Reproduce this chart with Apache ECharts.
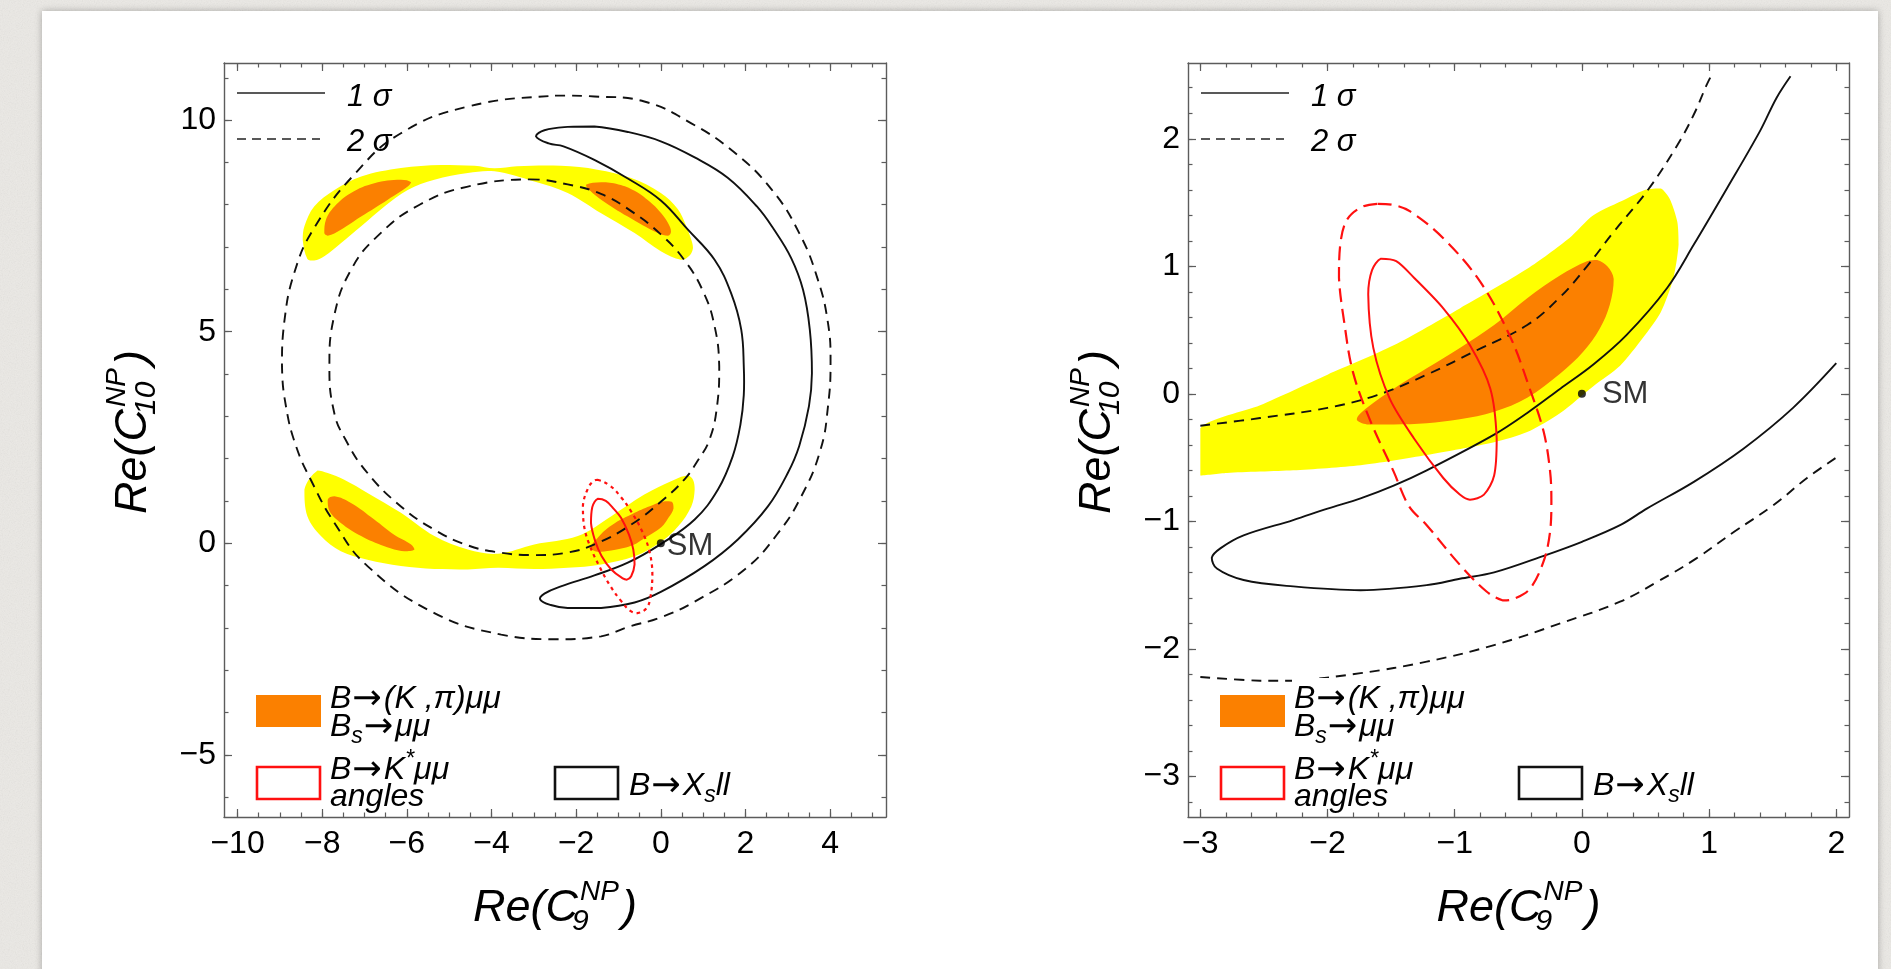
<!DOCTYPE html>
<html>
<head>
<meta charset="utf-8">
<title>C9 – C10 constraints</title>
<script src="https://cdn.jsdelivr.net/npm/echarts@6/dist/echarts.min.js"></script>
<style>
  html, body { margin: 0; padding: 0; width: 1891px; height: 969px; overflow: hidden; }
  body {
    background-color: #ebe9e5;
    background-image: url("data:image/svg+xml;utf8,<svg xmlns='http://www.w3.org/2000/svg' width='260' height='260'><filter id='n'><feTurbulence type='fractalNoise' baseFrequency='0.85' numOctaves='2' stitchTiles='stitch'/><feColorMatrix type='saturate' values='0'/></filter><rect width='260' height='260' filter='url(%23n)' opacity='0.16'/></svg>");
  }
  #card { position: absolute; left: 42px; top: 11px; width: 1836px; height: 990px; background: #fff;
          box-shadow: 0 0 7px rgba(0,0,0,0.28); }
  #chart { position: absolute; left: 0; top: 0; width: 1891px; height: 969px; }
</style>
</head>
<body>
<div id="card"></div>
<div id="chart"></div>
<script>
// ---------------- axis ranges and tick values ----------------
const leftXRange = [-10.32, 5.32];
const leftYRange = [-6.47, 11.35];
const rightXRange = [-3.097, 2.1];
const rightYRange = [-3.318, 2.594];

const leftXMajor = [-10, -8, -6, -4, -2, 0, 2, 4];
const leftYMajor = [-5, 0, 5, 10];
const rightXMajor = [-3, -2, -1, 0, 1, 2];
const rightYMajor = [-3, -2, -1, 0, 1, 2];

function steps(a, b, d) {
  const out = [];
  for (let v = a; v <= b + 1e-9; v += d) out.push(Math.round(v * 1000) / 1000);
  return out;
}
const leftXMinor = steps(-10, 5, 0.5);
const leftYMinor = steps(-6, 11, 1);
const rightXMinor = steps(-3, 2, 0.2);
const rightYMinor = steps(-3.2, 2.4, 0.2);

// ---------------- left panel: full (C9, C10) plane ----------------
// B→(K,π)μμ & Bs→μμ, 2σ (yellow) bands
const L_yellowTop = [[-8.35,6.72],[-8.46,7.17],[-8.42,7.49],[-8.19,7.96],[-7.71,8.35],[-7.08,8.67],[-6.14,8.87],[-5.19,8.94],[-4.4,8.92],[-3.93,8.86],[-3.4,8.91],[-2.36,8.92],[-1.5,8.83],[-0.7,8.63],[0.0,8.28],[0.4,7.9],[0.6,7.5],[0.72,7.17],[0.76,6.98],[0.68,6.8],[0.48,6.7],[0.0,6.9],[-0.62,7.33],[-1.41,7.8],[-2.2,8.28],[-2.99,8.55],[-3.93,8.79],[-4.56,8.75],[-5.35,8.59],[-5.98,8.35],[-6.53,7.96],[-7.08,7.49],[-7.56,7.09],[-7.95,6.78],[-8.19,6.68]];
const L_yellowBottom = [[-8.11,1.72],[-8.42,1.27],[-8.35,0.64],[-8.03,0.17],[-7.56,-0.19],[-6.93,-0.39],[-6.14,-0.54],[-5.35,-0.61],[-4.56,-0.62],[-3.85,-0.58],[-2.99,-0.61],[-2.2,-0.58],[-1.41,-0.5],[-0.62,-0.31],[0.0,0.03],[0.41,0.4],[0.72,0.87],[0.8,1.27],[0.76,1.5],[0.64,1.6],[0.32,1.5],[-0.39,1.15],[-1.17,0.64],[-1.96,0.17],[-2.99,-0.03],[-3.85,-0.25],[-4.56,-0.15],[-5.35,0.17],[-6.14,0.72],[-6.93,1.19],[-7.48,1.5],[-7.87,1.66]];
// 1σ (orange) islands
const L_orangeTL = [[-7.95,7.33],[-7.91,7.65],[-7.71,7.96],[-7.32,8.28],[-6.77,8.51],[-6.14,8.59],[-5.9,8.53],[-5.98,8.43],[-6.45,8.12],[-7.08,7.72],[-7.56,7.41],[-7.87,7.27]];
const L_orangeTR = [[-1.77,8.47],[-1.41,8.53],[-1.0,8.48],[-0.62,8.33],[-0.2,8.02],[0.01,7.8],[0.17,7.57],[0.24,7.37],[0.17,7.27],[-0.07,7.33],[-0.78,7.72],[-1.41,8.12],[-1.73,8.39]];
const L_orangeBL = [[-7.87,1.03],[-7.71,1.11],[-7.32,0.95],[-6.77,0.56],[-6.3,0.2],[-5.9,-0.03],[-5.82,-0.15],[-6.06,-0.19],[-6.53,-0.07],[-7.08,0.17],[-7.56,0.48],[-7.83,0.76]];
const L_orangeBR = [[-1.65,-0.1],[-1.5,0.12],[-1.17,0.42],[-0.62,0.72],[-0.2,0.9],[0.1,0.99],[0.26,0.98],[0.3,0.82],[0.18,0.6],[0.01,0.38],[-0.39,0.12],[-0.7,-0.06],[-1.17,-0.17],[-1.5,-0.2]];
// B→X_s ll contours
const L_xs1 = [[-2.95,9.62],[-2.75,9.76],[-2.2,9.84],[-1.57,9.85],[-0.78,9.72],[0.0,9.5],[0.8,9.12],[1.58,8.64],[2.27,7.96],[2.67,7.42],[3.08,6.74],[3.36,5.99],[3.52,5.05],[3.57,4.02],[3.5,3.24],[3.27,2.3],[3.0,1.66],[2.53,0.87],[1.82,0.09],[1.03,-0.54],[0.0,-1.15],[-0.62,-1.4],[-1.41,-1.53],[-2.2,-1.53],[-2.6,-1.46],[-2.85,-1.33],[-2.75,-1.19],[-2.36,-1.02],[-1.57,-0.76],[-0.78,-0.46],[0.0,-0.02],[0.8,0.56],[1.35,1.27],[1.7,2.06],[1.88,2.8],[1.96,3.5],[1.96,4.18],[1.9,5.05],[1.66,5.91],[1.27,6.7],[0.64,7.41],[0.0,8.1],[-0.78,8.62],[-1.57,9.06],[-2.3,9.38],[-2.65,9.45]];
const L_xs2Outer = [[-2.5,10.58],[-1.57,10.56],[-0.39,10.44],[0.71,9.93],[1.72,9.25],[2.61,8.37],[3.27,7.33],[3.71,6.23],[3.95,5.2],[4.01,4.3],[3.95,3.24],[3.77,2.2],[3.32,1.11],[2.74,0.2],[1.98,-0.62],[0.8,-1.38],[0.0,-1.75],[-0.78,-1.98],[-1.41,-2.2],[-2.5,-2.27],[-3.77,-2.16],[-5.35,-1.65],[-6.93,-0.54],[-7.71,0.48],[-8.27,1.5],[-8.62,2.3],[-8.85,3.2],[-8.95,4.18],[-8.9,5.2],[-8.66,6.39],[-8.19,7.45],[-7.22,8.74],[-6.14,9.69],[-4.56,10.32]];
const L_xs2Inner = [[-3.1,8.6],[-2.2,8.48],[-1.4,8.25],[-0.7,7.85],[0.0,7.3],[0.55,6.7],[1.0,5.95],[1.27,5.13],[1.38,4.18],[1.33,3.25],[1.15,2.45],[0.87,1.95],[0.55,1.5],[0.0,0.98],[-0.7,0.44],[-1.5,0.0],[-2.2,-0.22],[-3.0,-0.28],[-3.8,-0.22],[-4.56,-0.05],[-5.35,0.32],[-6.14,0.87],[-6.93,1.66],[-7.45,2.45],[-7.72,3.1],[-7.83,4.18],[-7.72,5.36],[-7.32,6.46],[-6.65,7.3],[-5.7,8.0],[-4.56,8.43]];
// B→K*μμ angular observables
const L_kstar1 = [[-1.49,1.05],[-1.3,1.0],[-1.1,0.8],[-0.94,0.6],[-0.75,0.2],[-0.65,-0.15],[-0.62,-0.5],[-0.7,-0.78],[-0.8,-0.86],[-0.9,-0.83],[-1.17,-0.62],[-1.4,-0.3],[-1.55,0.05],[-1.65,0.48],[-1.62,0.85]];
const L_kstar2 = [[-1.5,1.5],[-1.2,1.36],[-0.95,1.1],[-0.7,0.75],[-0.45,0.3],[-0.28,-0.15],[-0.2,-0.7],[-0.25,-1.3],[-0.35,-1.55],[-0.55,-1.65],[-0.72,-1.6],[-0.95,-1.35],[-1.2,-1.0],[-1.45,-0.55],[-1.7,0.0],[-1.82,0.45],[-1.84,0.9],[-1.72,1.3],[-1.6,1.46]];

// ---------------- right panel: region around the SM ----------------
const R_yellow = [[-3.0,-0.27],[-2.53,-0.09],[-2.0,0.15],[-1.48,0.38],[-0.96,0.67],[-0.43,0.98],[-0.1,1.22],[0.09,1.4],[0.35,1.53],[0.5,1.6],[0.62,1.61],[0.69,1.53],[0.75,1.35],[0.76,1.17],[0.72,0.91],[0.62,0.64],[0.48,0.44],[0.3,0.22],[0.09,0.06],[-0.17,-0.15],[-0.43,-0.3],[-0.69,-0.38],[-1.22,-0.48],[-1.74,-0.56],[-2.27,-0.6],[-2.79,-0.62],[-3.0,-0.64]];
const R_orange = [[-1.77,-0.2],[-1.69,-0.11],[-1.48,0.04],[-1.22,0.2],[-0.96,0.36],[-0.69,0.54],[-0.43,0.75],[-0.17,0.93],[0.04,1.04],[0.12,1.05],[0.2,1.0],[0.25,0.9],[0.22,0.7],[0.14,0.51],[0.01,0.33],[-0.17,0.16],[-0.43,-0.03],[-0.69,-0.14],[-0.96,-0.2],[-1.22,-0.23],[-1.48,-0.24],[-1.69,-0.24]];
const R_xs1 = [[1.64,2.49],[1.53,2.32],[1.4,2.06],[1.14,1.61],[0.88,1.17],[0.67,0.83],[0.35,0.46],[0.09,0.23],[-0.17,0.04],[-0.43,-0.15],[-0.69,-0.32],[-1.22,-0.6],[-1.48,-0.72],[-1.74,-0.82],[-2.0,-0.9],[-2.27,-0.99],[-2.66,-1.11],[-2.84,-1.21],[-2.91,-1.285],[-2.87,-1.37],[-2.66,-1.46],[-2.27,-1.51],[-1.74,-1.54],[-1.22,-1.5],[-0.96,-1.45],[-0.69,-1.4],[-0.3,-1.27],[0.0,-1.16],[0.3,-1.03],[0.51,-0.9],[0.88,-0.69],[1.27,-0.43],[1.66,-0.11],[2.0,0.24]];
const R_xs2Upper = [[-3.0,-0.25],[-2.53,-0.19],[-2.0,-0.11],[-1.61,-0.01],[-1.22,0.15],[-0.83,0.34],[-0.43,0.54],[-0.17,0.76],[0.04,1.0],[0.25,1.27],[0.52,1.6],[0.75,1.95],[0.88,2.19],[0.98,2.42],[1.02,2.5]];
const R_xs2Lower = [[-3.0,-2.22],[-2.53,-2.25],[-2.27,-2.25],[-1.74,-2.19],[-1.22,-2.1],[-0.69,-1.97],[-0.17,-1.8],[0.3,-1.63],[0.6,-1.47],[0.9,-1.29],[1.2,-1.08],[1.51,-0.87],[1.77,-0.66],[2.0,-0.5]];
const R_kstar1 = [[-1.58,1.06],[-1.46,1.04],[-1.32,0.91],[-1.09,0.67],[-0.88,0.38],[-0.72,0.04],[-0.67,-0.35],[-0.69,-0.64],[-0.77,-0.79],[-0.88,-0.83],[-0.96,-0.79],[-1.09,-0.66],[-1.32,-0.35],[-1.51,-0.04],[-1.64,0.36],[-1.68,0.78],[-1.65,0.97]];
const R_kstar2 = [[-1.61,1.49],[-1.74,1.46],[-1.85,1.36],[-1.9,1.17],[-1.91,0.91],[-1.87,0.57],[-1.8,0.17],[-1.66,-0.22],[-1.48,-0.61],[-1.36,-0.88],[-1.22,-1.03],[-0.96,-1.34],[-0.75,-1.55],[-0.62,-1.62],[-0.54,-1.61],[-0.41,-1.53],[-0.3,-1.31],[-0.25,-1.08],[-0.24,-0.84],[-0.25,-0.61],[-0.3,-0.3],[-0.41,0.04],[-0.56,0.44],[-0.8,0.88],[-1.09,1.22],[-1.35,1.43],[-1.48,1.48]];

const smPoint = [[0, 0]];

// ---------------- styling ----------------
const FONT = '"Liberation Sans", Arial, Helvetica, sans-serif';
const ARROW_FONT = '"DejaVu Sans", sans-serif';
const FRAME = '#5c5c5c';
const YELLOW = '#ffff00';
const ORANGE = '#fb8000';
const RED = '#ff1010';
const GRIDS = [
  { left: 224, top: 63, width: 662, height: 754 },
  { left: 1188, top: 63, width: 661, height: 754 }
];

const fmt = v => String(v).replace('-', '\u2212');

// four framing axes per dimension and grid: labelled side (major + minor) and opposite side (major + minor)
function axisSet(dim, gridIndex, range, major, minor) {
  const sides = dim === 'x' ? ['bottom', 'top'] : ['left', 'right'];
  const list = [];
  sides.forEach((pos, si) => {
    [true, false].forEach(isMajor => {
      list.push({
        type: 'value', gridIndex: gridIndex, position: pos,
        min: range[0], max: range[1], scale: true,
        axisLine: { show: isMajor, onZero: false, lineStyle: { color: FRAME, width: 1.4 } },
        axisTick: { show: true, inside: true, length: isMajor ? 8 : 4.5,
                    customValues: isMajor ? major : minor, lineStyle: { color: FRAME, width: 1.2 } },
        axisLabel: { show: isMajor && si === 0, customValues: major, formatter: fmt,
                     margin: dim === 'x' ? 11 : 8, color: '#000', fontSize: 32, fontFamily: FONT },
        splitLine: { show: false }, minorTick: { show: false }, silent: true, z: 6
      });
    });
  });
  return list;
}

function bbox(px) {
  let x0 = Infinity, y0 = Infinity, x1 = -Infinity, y1 = -Infinity;
  px.forEach(p => { x0 = Math.min(x0, p[0]); y0 = Math.min(y0, p[1]); x1 = Math.max(x1, p[0]); y1 = Math.max(y1, p[1]); });
  return [[x0, y0], [x1, y1]];
}

// filled confidence region
function areaSeries(ax, pts, color, smooth) {
  return {
    type: 'custom', coordinateSystem: 'cartesian2d', xAxisIndex: ax, yAxisIndex: ax,
    data: [pts[0]], clip: true, silent: true, z: 1,
    renderItem: function (params, api) {
      const px = pts.map(p => api.coord(p));
      return { type: 'polygon', shape: { points: px, smooth: smooth, smoothConstraint: bbox(px) },
               style: { fill: color } };
    }
  };
}

// contour line; closed contours are drawn as a smooth loop
function curve(ax, pts, color, dash, width, smooth, closed, z) {
  return {
    type: 'custom', coordinateSystem: 'cartesian2d', xAxisIndex: ax, yAxisIndex: ax,
    data: [pts[0]], clip: true, silent: true, z: z || 3,
    renderItem: function (params, api) {
      const px = pts.map(p => api.coord(p));
      return { type: closed ? 'polygon' : 'polyline',
               shape: { points: px, smooth: smooth, smoothConstraint: bbox(px) },
               style: { fill: 'none', stroke: color, lineWidth: width, lineDash: dash, lineJoin: 'round' } };
    }
  };
}

function smSeries(ax, distance, offset) {
  return {
    type: 'scatter', xAxisIndex: ax, yAxisIndex: ax, data: smPoint, symbolSize: 8, z: 5, silent: true,
    itemStyle: { color: '#000' },
    label: { show: true, formatter: 'SM', position: 'right', distance: distance, offset: offset,
             color: '#000', fontSize: 31, fontFamily: FONT }
  };
}

// ---------------- text helpers (graphic layer) ----------------
const measureCtx = document.createElement('canvas').getContext('2d');
function textWidth(str, size, style, family) {
  measureCtx.font = (style || 'normal') + ' ' + size + 'px ' + (family || FONT);
  return measureCtx.measureText(str).width;
}
function txt(text, x, y, size, italic, family) {
  return { type: 'text', x: x, y: y, silent: true, z: 20,
           style: { text: text, fontSize: size, fontFamily: family || FONT, fontStyle: italic ? 'italic' : 'normal',
                    fill: '#000', align: 'left', verticalAlign: 'middle', textAlign: 'left', textVerticalAlign: 'middle' } };
}
// a line of italic text with sub/superscripts and arrows
function formula(parts, x, y, size) {
  const out = [];
  let cx = x;
  parts.forEach(([t, kind]) => {
    if (kind === 'arr') {
      const s = size * 1.1;
      out.push(txt(t, cx + 1, y + 1, s, false, ARROW_FONT));
      cx += textWidth(t, s, 'normal', ARROW_FONT) + 3;
      return;
    }
    const s = kind ? Math.round(size * 0.72) : size;
    const dy = kind === 'sub' ? size * 0.3 : kind === 'sup' ? -size * 0.33 : 0;
    out.push(txt(t, cx, y + dy, s, true));
    cx += textWidth(t, s, 'italic');
  });
  return out;
}
// Re(C_i^NP) axis title with stacked sub/superscript
function axisTitle(cx, cy, vertical, index) {
  const main = 45, sup = 28, sub = 30;
  const w1 = textWidth('Re(C', main, 'italic');
  const wSup = textWidth('NP', sup, 'italic');
  const wSub = textWidth(index, sub, 'italic');
  const stack = Math.max(wSup + 2, wSub - 4);
  const wP = textWidth(')', main, 'italic');
  const W = w1 + stack + 3 + wP;
  const x0 = -W / 2;
  return {
    type: 'group', x: cx, y: cy, rotation: vertical ? Math.PI / 2 : 0, silent: true,
    children: [
      txt('Re(C', x0, 0, main, true),
      txt('NP', x0 + w1 + 2, -16, sup, true),
      txt(index, x0 + w1 - 6, 14, sub, true),
      txt(')', x0 + w1 + stack + 3, 0, main, true)
    ]
  };
}
const ARR = '\u2192';
function legendBlock(L) {
  const g = [];
  const fs = 32;
  // line-style key
  g.push({ type: 'line', silent: true, z: 20, shape: { x1: L + 13, y1: 93, x2: L + 101, y2: 93 }, style: { stroke: '#222', lineWidth: 1.5 } });
  g.push({ type: 'line', silent: true, z: 20, shape: { x1: L + 13, y1: 139, x2: L + 96, y2: 139 }, style: { stroke: '#222', lineWidth: 1.5, lineDash: [9, 6] } });
  g.push(...formula([['1 \u03C3']], L + 123, 97, 31));
  g.push(...formula([['2 \u03C3']], L + 123, 142, 31));
  // constraint key
  g.push({ type: 'rect', silent: true, z: 18, shape: { x: L + 104, y: 678, width: 200, height: 60 }, style: { fill: '#fff' } });
  g.push({ type: 'rect', silent: true, z: 20, shape: { x: L + 32, y: 695, width: 65, height: 32 }, style: { fill: ORANGE } });
  g.push(...formula([['B'], [ARR, 'arr'], ['(K ,\u03C0)\u03BC\u03BC']], L + 106, 699, fs));
  g.push(...formula([['B'], ['s', 'sub'], [ARR, 'arr'], ['\u03BC\u03BC']], L + 106, 727, fs));
  g.push({ type: 'rect', silent: true, z: 20, shape: { x: L + 33, y: 767, width: 63, height: 32 }, style: { fill: '#fff', stroke: RED, lineWidth: 2.6 } });
  g.push(...formula([['B'], [ARR, 'arr'], ['K'], ['*', 'sup'], ['\u03BC\u03BC']], L + 106, 770, fs));
  g.push(...formula([['angles']], L + 106, 797, fs));
  g.push({ type: 'rect', silent: true, z: 20, shape: { x: L + 331, y: 767, width: 63, height: 32 }, style: { fill: '#fff', stroke: '#111', lineWidth: 2.6 } });
  g.push(...formula([['B'], [ARR, 'arr'], ['X'], ['s', 'sub'], ['ll']], L + 405, 786, fs));
  return g;
}

// ---------------- option ----------------
const xAxes = [].concat(axisSet('x', 0, leftXRange, leftXMajor, leftXMinor), axisSet('x', 1, rightXRange, rightXMajor, rightXMinor));
const yAxes = [].concat(axisSet('y', 0, leftYRange, leftYMajor, leftYMinor), axisSet('y', 1, rightYRange, rightYMajor, rightYMinor));

const dash2 = [10, 7];
const series = [
  // left panel
  areaSeries(0, L_yellowTop, YELLOW, 0.35),
  areaSeries(0, L_yellowBottom, YELLOW, 0.35),
  areaSeries(0, L_orangeTL, ORANGE, 0.4),
  areaSeries(0, L_orangeTR, ORANGE, 0.4),
  areaSeries(0, L_orangeBL, ORANGE, 0.4),
  areaSeries(0, L_orangeBR, ORANGE, 0.4),
  curve(0, L_xs2Outer, '#111', dash2, 1.9, 0.45, true),
  curve(0, L_xs2Inner, '#111', dash2, 1.9, 0.45, true),
  curve(0, L_xs1, '#111', null, 1.9, 0.4, true),
  curve(0, L_kstar1, RED, null, 2, 0.4, true, 4),
  curve(0, L_kstar2, RED, [3.5, 4], 2.2, 0.4, true, 4),
  smSeries(0, 2, [0, 3]),
  // right panel
  areaSeries(4, R_yellow, YELLOW, 0.25),
  areaSeries(4, R_orange, ORANGE, 0.35),
  curve(4, R_xs2Upper, '#111', dash2, 1.9, 0.4, false),
  curve(4, R_xs2Lower, '#111', dash2, 1.9, 0.4, false),
  curve(4, R_xs1, '#111', null, 1.9, 0.35, false),
  curve(4, R_kstar1, RED, null, 2, 0.3, true, 4),
  curve(4, R_kstar2, RED, [14, 7], 2.2, 0.35, true, 4),
  smSeries(4, 16, [0, 1])
];

const graphics = [].concat(
  legendBlock(GRIDS[0].left),
  legendBlock(GRIDS[1].left),
  [
    axisTitle(555, 908, false, '9'),
    axisTitle(1518.5, 908, false, '9'),
    axisTitle(133, 432, true, '10'),
    axisTitle(1097, 432, true, '10')
  ]
);

const option = {
  backgroundColor: 'transparent',
  animation: false,
  grid: GRIDS.map(g => Object.assign({ show: false, containLabel: false, outerBoundsMode: 'none' }, g)),
  xAxis: xAxes,
  yAxis: yAxes,
  series: series,
  graphic: { elements: graphics }
};

const chart = echarts.init(document.getElementById('chart'), null, { renderer: 'canvas', width: 1891, height: 969 });
chart.setOption(option);
</script>
</body>
</html>
